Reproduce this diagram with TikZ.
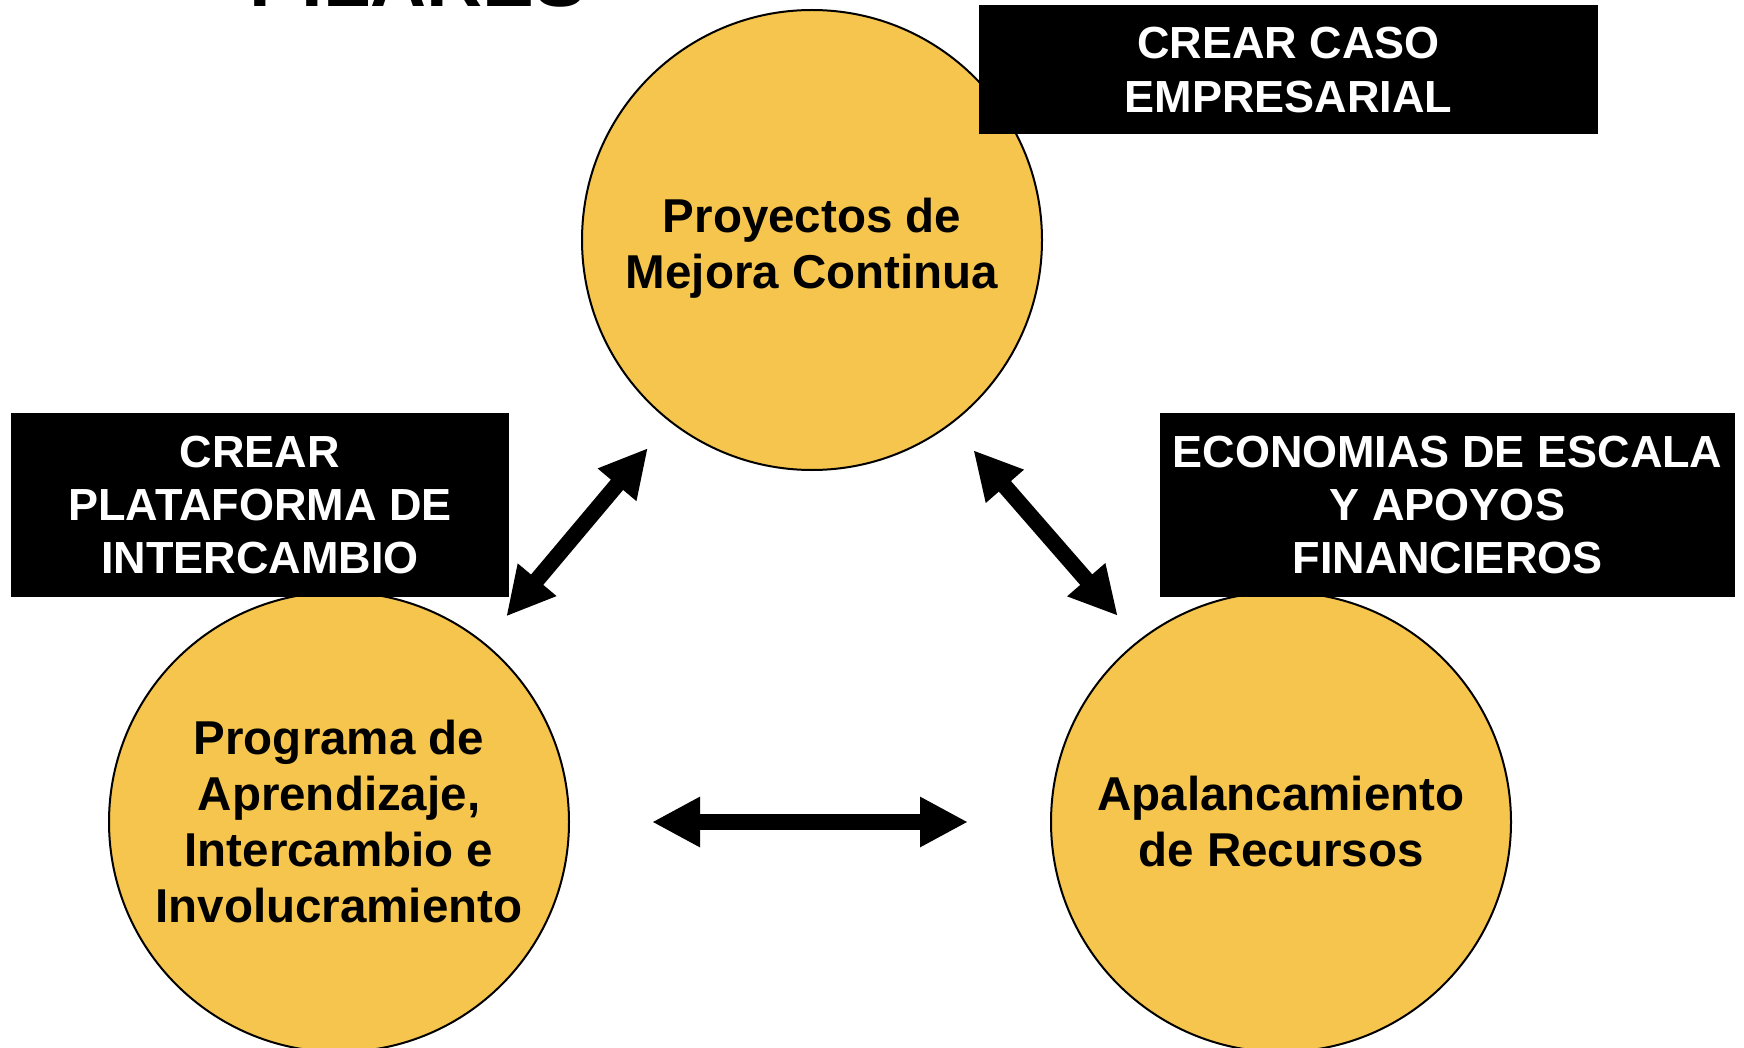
\documentclass[tikz,border=0pt]{standalone}
\usepackage{fontspec}
\setmainfont{Liberation Sans}
\usetikzlibrary{arrows.meta}
\definecolor{gold}{HTML}{F5C54E}
\tikzset{
  pillar/.style={circle, draw=black, line width=1pt, fill=gold, minimum size=230pt, inner sep=0pt,
    align=center, font=\bfseries\fontsize{23.75}{28}\selectfont, text=black},
  pillartext/.style={inner sep=0pt, align=center, font=\bfseries\fontsize{23.75}{28}\selectfont, text=black},
  tag/.style={rectangle, fill=black, inner sep=0pt, align=center, text=white,
    font=\bfseries\fontsize{22.5}{26.6}\selectfont},
  biarrow/.style={line width=8pt, {Triangle[length=24pt,width=23.5pt]}-{Triangle[length=24pt,width=23.5pt]}},
}
\begin{document}
\begin{tikzpicture}[x=0.5pt,y=-0.5pt]
\useasboundingbox (0,0) rectangle (1744,1048);
\clip (0,0) rectangle (1744,1048);
\node[anchor=base, font=\bfseries\fontsize{38.8}{40}\selectfont] (title) at (418,7) {PILARES};
\node[pillar] (cTop) at (812,240) {};
\node[pillartext] (cTopText) at (812,248) {Proyectos de\\Mejora Continua};
\node[pillar] (cLeft) at (339,822) {Programa de\\Aprendizaje,\\Intercambio e\\Involucramiento};
\node[pillar] (cRight) at (1281,822) {Apalancamiento\\de Recursos};
\node[tag, minimum width=309.5pt, minimum height=64.5pt] (tTop) at (1288.5,70) {CREAR CASO\\EMPRESARIAL};
\node[tag, minimum width=249pt, minimum height=92pt] (tLeft) at (260,505) {CREAR\\PLATAFORMA DE\\INTERCAMBIO};
\node[tag, minimum width=287.5pt, minimum height=92pt] (tRight) at (1447.5,505) {ECONOMIAS DE ESCALA\\Y APOYOS\\FINANCIEROS};
\draw[biarrow, shorten <=17pt, shorten >=17pt] (cLeft.51.4) -- (cTop.232.3);
\draw[biarrow, shorten <=17pt, shorten >=16pt] (cTop.307.4) -- (cRight.128.5);
\draw[biarrow, shorten <=41pt, shorten >=41pt] (cLeft) -- (cRight);
\end{tikzpicture}
\end{document}
